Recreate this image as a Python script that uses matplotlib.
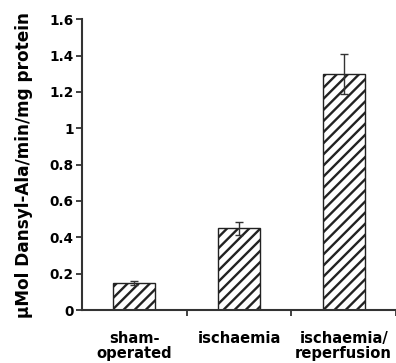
import matplotlib.pyplot as plt
import numpy as np

plt.rcParams['font.family'] = ['DejaVu Sans']
plt.rcParams['font.weight'] = 'bold'
plt.rcParams['hatch.linewidth'] = 1.7
plt.rcParams['hatch.color'] = '#222222'

groups = ['sham-\noperated', 'ischaemia', 'ischaemia/\nreperfusion']
activity = [0.15, 0.45, 1.30]
sem = [0.01, 0.035, 0.11]
yticks = [0, 0.2, 0.4, 0.6, 0.8, 1, 1.2, 1.4, 1.6]

fig = plt.figure(figsize=(3.96, 3.63), dpi=100)
ax = fig.add_axes([0.207, 0.146, 0.793, 0.801])

x = np.arange(len(groups))
ax.bar(x, activity, width=0.4, color='white', edgecolor='#222222',
       linewidth=1.0, hatch='///', zorder=2)
ax.errorbar(x, activity, yerr=sem, fmt='none', ecolor='#333333',
            elinewidth=1.0, capsize=3, capthick=1.0, zorder=3)

ax.set_xlim(-0.5, 2.5)
ax.set_ylim(0, 1.6)
ax.set_yticks(yticks)
ax.set_yticklabels([f'{v:g}' for v in yticks])

# boundaries between groups get the tick marks, names sit under the bars
ax.set_xticks([0.5, 1.5, 2.5])
ax.set_xticklabels([])
ax.set_xticks(x, minor=True)
ax.set_xticklabels(groups, minor=True, fontsize=10.6, linespacing=1.05)
ax.tick_params(axis='x', which='major', direction='out', length=4,
               width=1.3, color='#333333')
ax.tick_params(axis='x', which='minor', length=0, pad=15)
ax.tick_params(axis='y', direction='out', length=4, width=1.3,
               color='#333333', pad=2, labelsize=9.8)

ax.set_ylabel('µMol Dansyl-Ala/min/mg protein', fontsize=12.2,
              fontweight='bold', labelpad=12)

for side in ['top', 'right']:
    ax.spines[side].set_visible(False)
for side in ['left', 'bottom']:
    ax.spines[side].set_linewidth(1.5)
    ax.spines[side].set_color('#333333')

fig.savefig('out.png', dpi=100)
